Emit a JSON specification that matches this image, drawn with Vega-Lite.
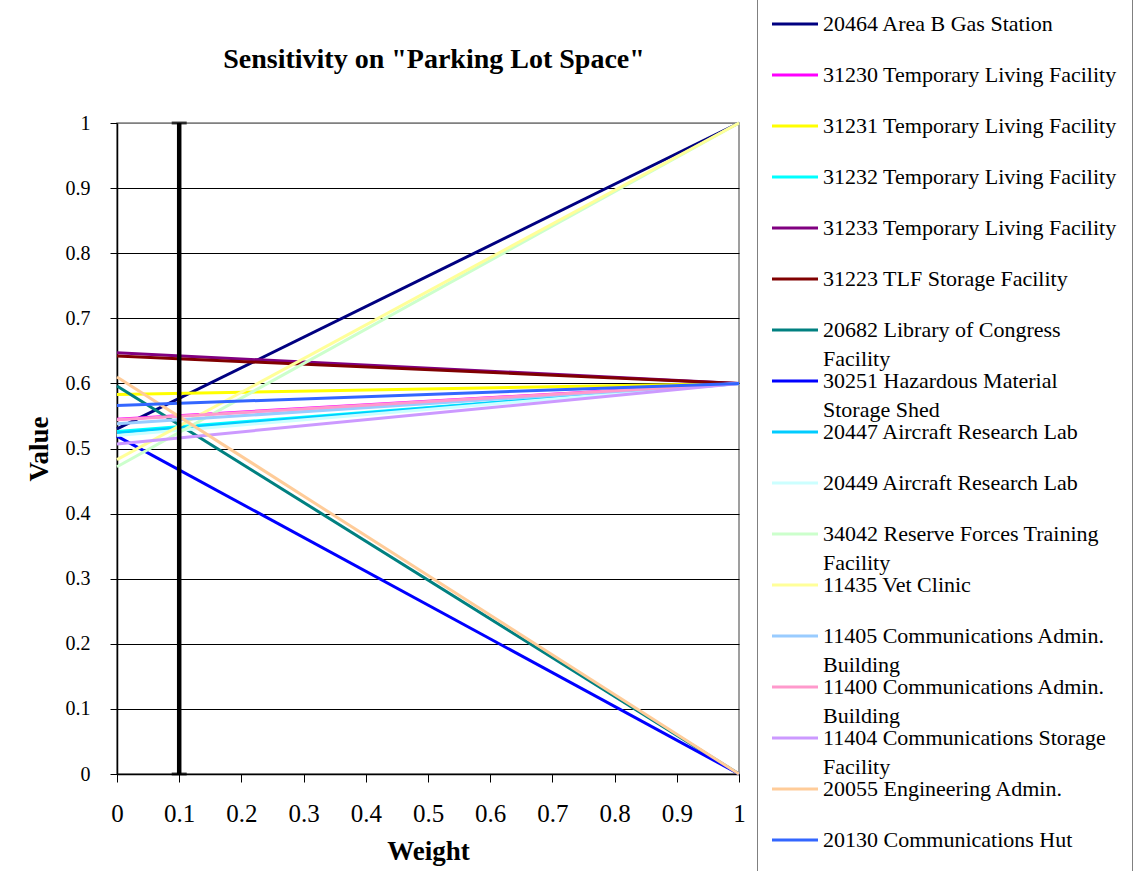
{
  "$schema": "https://vega.github.io/schema/vega-lite/v6.json",
  "width": 622,
  "height": 651,
  "autosize": {"type": "none"},
  "padding": {"left": 117, "top": 123, "right": 396, "bottom": 97},
  "background": "white",
  "config": {
    "view": {"stroke": "#808080", "strokeWidth": 1.5},
    "font": "Liberation Serif",
    "axisY": {"labelFontSize": 20, "labelPadding": 20, "tickSize": 7, "labelFont": "Liberation Serif"},
    "axisX": {"labelFontSize": 25, "labelPadding": 19, "tickSize": 8, "labelFont": "Liberation Serif"}
  },
  "title": {
    "text": "Sensitivity on \"Parking Lot Space\"",
    "font": "Liberation Serif",
    "fontSize": 28,
    "fontWeight": "bold",
    "color": "black",
    "anchor": "middle",
    "baseline": "alphabetic",
    "offset": -98,
    "dx": 6
  },
  "datasets": {
    "lines": [
      {"building": "20464 Area  B Gas  Station", "weight": 0, "value": 0.53},
      {"building": "20464 Area  B Gas  Station", "weight": 1, "value": 1.0},
      {"building": "31230 Temporary Living Facility", "weight": 0, "value": 0.545},
      {"building": "31230 Temporary Living Facility", "weight": 1, "value": 0.6},
      {"building": "31231 Temporary Living Facility", "weight": 0, "value": 0.583},
      {"building": "31231 Temporary Living Facility", "weight": 1, "value": 0.6},
      {"building": "31232 Temporary Living Facility", "weight": 0, "value": 0.526},
      {"building": "31232 Temporary Living Facility", "weight": 1, "value": 0.6},
      {"building": "31233 Temporary Living Facility", "weight": 0, "value": 0.647},
      {"building": "31233 Temporary Living Facility", "weight": 1, "value": 0.6},
      {"building": "31223 TLF  Storage Facility", "weight": 0, "value": 0.642},
      {"building": "31223 TLF  Storage Facility", "weight": 1, "value": 0.6},
      {"building": "20682 Library of Congress Facility", "weight": 0, "value": 0.596},
      {"building": "20682 Library of Congress Facility", "weight": 1, "value": 0.0},
      {"building": "30251 Hazardous Material Storage Shed", "weight": 0, "value": 0.519},
      {"building": "30251 Hazardous Material Storage Shed", "weight": 1, "value": 0.0},
      {"building": "20447 Aircraft Research Lab", "weight": 0, "value": 0.524},
      {"building": "20447 Aircraft Research Lab", "weight": 1, "value": 0.6},
      {"building": "20449 Aircraft Research Lab", "weight": 0, "value": 0.52},
      {"building": "20449 Aircraft Research Lab", "weight": 1, "value": 0.6},
      {"building": "34042 Reserve Forces Training Facility", "weight": 0, "value": 0.472},
      {"building": "34042 Reserve Forces Training Facility", "weight": 1, "value": 1.0},
      {"building": "11435 Vet Clinic", "weight": 0, "value": 0.483},
      {"building": "11435 Vet Clinic", "weight": 1, "value": 1.0},
      {"building": "11405 Communications Admin. Building", "weight": 0, "value": 0.538},
      {"building": "11405 Communications Admin. Building", "weight": 1, "value": 0.6},
      {"building": "11400 Communications Admin. Building", "weight": 0, "value": 0.544},
      {"building": "11400 Communications Admin. Building", "weight": 1, "value": 0.6},
      {"building": "11404 Communications Storage Facility", "weight": 0, "value": 0.507},
      {"building": "11404 Communications Storage Facility", "weight": 1, "value": 0.6},
      {"building": "20055 Engineering Admin.", "weight": 0, "value": 0.61},
      {"building": "20055 Engineering Admin.", "weight": 1, "value": 0.0},
      {"building": "20130 Communications Hut", "weight": 0, "value": 0.566},
      {"building": "20130 Communications Hut", "weight": 1, "value": 0.6}
    ],
    "marker": [
      {"weight": 0.1, "value": 0, "high": 1}
    ],
    "caps": [
      {"weight": 0.1, "value": 0},
      {"weight": 0.1, "value": 1}
    ]
  },
  "encoding": {
    "x": {
      "field": "weight", "type": "quantitative",
      "scale": {"domain": [0, 1], "nice": false, "zero": false},
      "axis": {
        "values": [0, 0.1, 0.2, 0.3, 0.4, 0.5, 0.6, 0.7, 0.8, 0.9, 1],
        "format": "~g",
        "grid": false,
        "domainColor": "black",
        "domainWidth": 1.5,
        "tickColor": "black",
        "tickSize": 8,
        "tickWidth": 1,
        "labelFont": "Liberation Serif",
        "labelFontSize": 25,
        "labelColor": "black",
        "labelPadding": 19,
        "labelFlush": false,
        "labelOverlap": false,
        "labelAngle": 0,
        "title": "Weight",
        "titleFont": "Liberation Serif",
        "titleFontSize": 27,
        "titleFontWeight": "bold",
        "titleColor": "black",
        "titlePadding": 12
      }
    },
    "y": {
      "field": "value", "type": "quantitative",
      "scale": {"domain": [0, 1], "nice": false, "zero": false},
      "axis": {
        "values": [0, 0.1, 0.2, 0.3, 0.4, 0.5, 0.6, 0.7, 0.8, 0.9, 1],
        "format": "~g",
        "grid": true,
        "gridColor": {"condition": {"test": "datum.value === 1", "value": "#808080"}, "value": "black"},
        "gridWidth": 1,
        "gridOpacity": 1,
        "domainColor": "black",
        "domainWidth": 1.5,
        "tickColor": "black",
        "tickSize": 7,
        "labelFont": "Liberation Serif",
        "labelFontSize": 20,
        "labelColor": "black",
        "labelPadding": 20,
        "labelFlush": false,
        "labelOverlap": false,
        "title": "Value",
        "titleFont": "Liberation Serif",
        "titleFontSize": 27,
        "titleFontWeight": "bold",
        "titleColor": "black",
        "titlePadding": 12
      }
    }
  },
  "layer": [
    {
      "data": {"name": "lines"},
      "mark": {"type": "line", "strokeWidth": 3, "clip": false},
      "encoding": {
        "color": {
          "field": "building", "type": "nominal",
          "sort": null,
          "scale": {
            "domain": [
              "20464 Area  B Gas  Station",
              "31230 Temporary Living Facility",
              "31231 Temporary Living Facility",
              "31232 Temporary Living Facility",
              "31233 Temporary Living Facility",
              "31223 TLF  Storage Facility",
              "20682 Library of Congress Facility",
              "30251 Hazardous Material Storage Shed",
              "20447 Aircraft Research Lab",
              "20449 Aircraft Research Lab",
              "34042 Reserve Forces Training Facility",
              "11435 Vet Clinic",
              "11405 Communications Admin. Building",
              "11400 Communications Admin. Building",
              "11404 Communications Storage Facility",
              "20055 Engineering Admin.",
              "20130 Communications Hut"
            ],
            "range": [
              "#000080", "#FF00FF", "#FFFF00", "#00FFFF", "#800080", "#800000",
              "#008080", "#0000FF", "#00CCFF", "#CCFFFF", "#CCFFCC", "#FFFF99",
              "#99CCFF", "#FF99CC", "#CC99FF", "#FFCC99", "#3366FF"
            ]
          },
          "legend": {
            "orient": "none",
            "legendX": 640,
            "legendY": -125,
            "title": null,
            "symbolType": "M-5,0H5",
            "symbolSize": 84.64,
            "symbolStrokeWidth": 3,
            "symbolOffset": 12,
            "labelFont": "Liberation Serif",
            "labelFontSize": 22,
            "labelColor": "black",
            "labelOffset": 17,
            "labelLimit": 500,
            "padding": 15,
            "rowPadding": 0,
            "strokeColor": "#808080",
            "fillColor": "white",
            "labelExpr": "datum.label == '20682 Library of Congress Facility' ? ['20682 Library of Congress', 'Facility'] : datum.label == '30251 Hazardous Material Storage Shed' ? ['30251 Hazardous Material', 'Storage Shed'] : datum.label == '34042 Reserve Forces Training Facility' ? ['34042 Reserve Forces Training', 'Facility'] : datum.label == '11405 Communications Admin. Building' ? ['11405 Communications Admin.', 'Building'] : datum.label == '11400 Communications Admin. Building' ? ['11400 Communications Admin.', 'Building'] : datum.label == '11404 Communications Storage Facility' ? ['11404 Communications Storage', 'Facility'] : [datum.label, '']",
            "encode": {"labels": {"update": {"lineHeight": {"value": 29}}}}
          }
        }
      }
    },
    {
      "data": {"name": "marker"},
      "mark": {"type": "rule", "color": "black", "strokeWidth": 4.5},
      "encoding": {
        "y2": {"field": "high"}
      }
    },
    {
      "data": {"name": "caps"},
      "mark": {"type": "tick", "color": "black", "orient": "horizontal", "size": 15, "thickness": 3},
      "encoding": {}
    }
  ]
}
